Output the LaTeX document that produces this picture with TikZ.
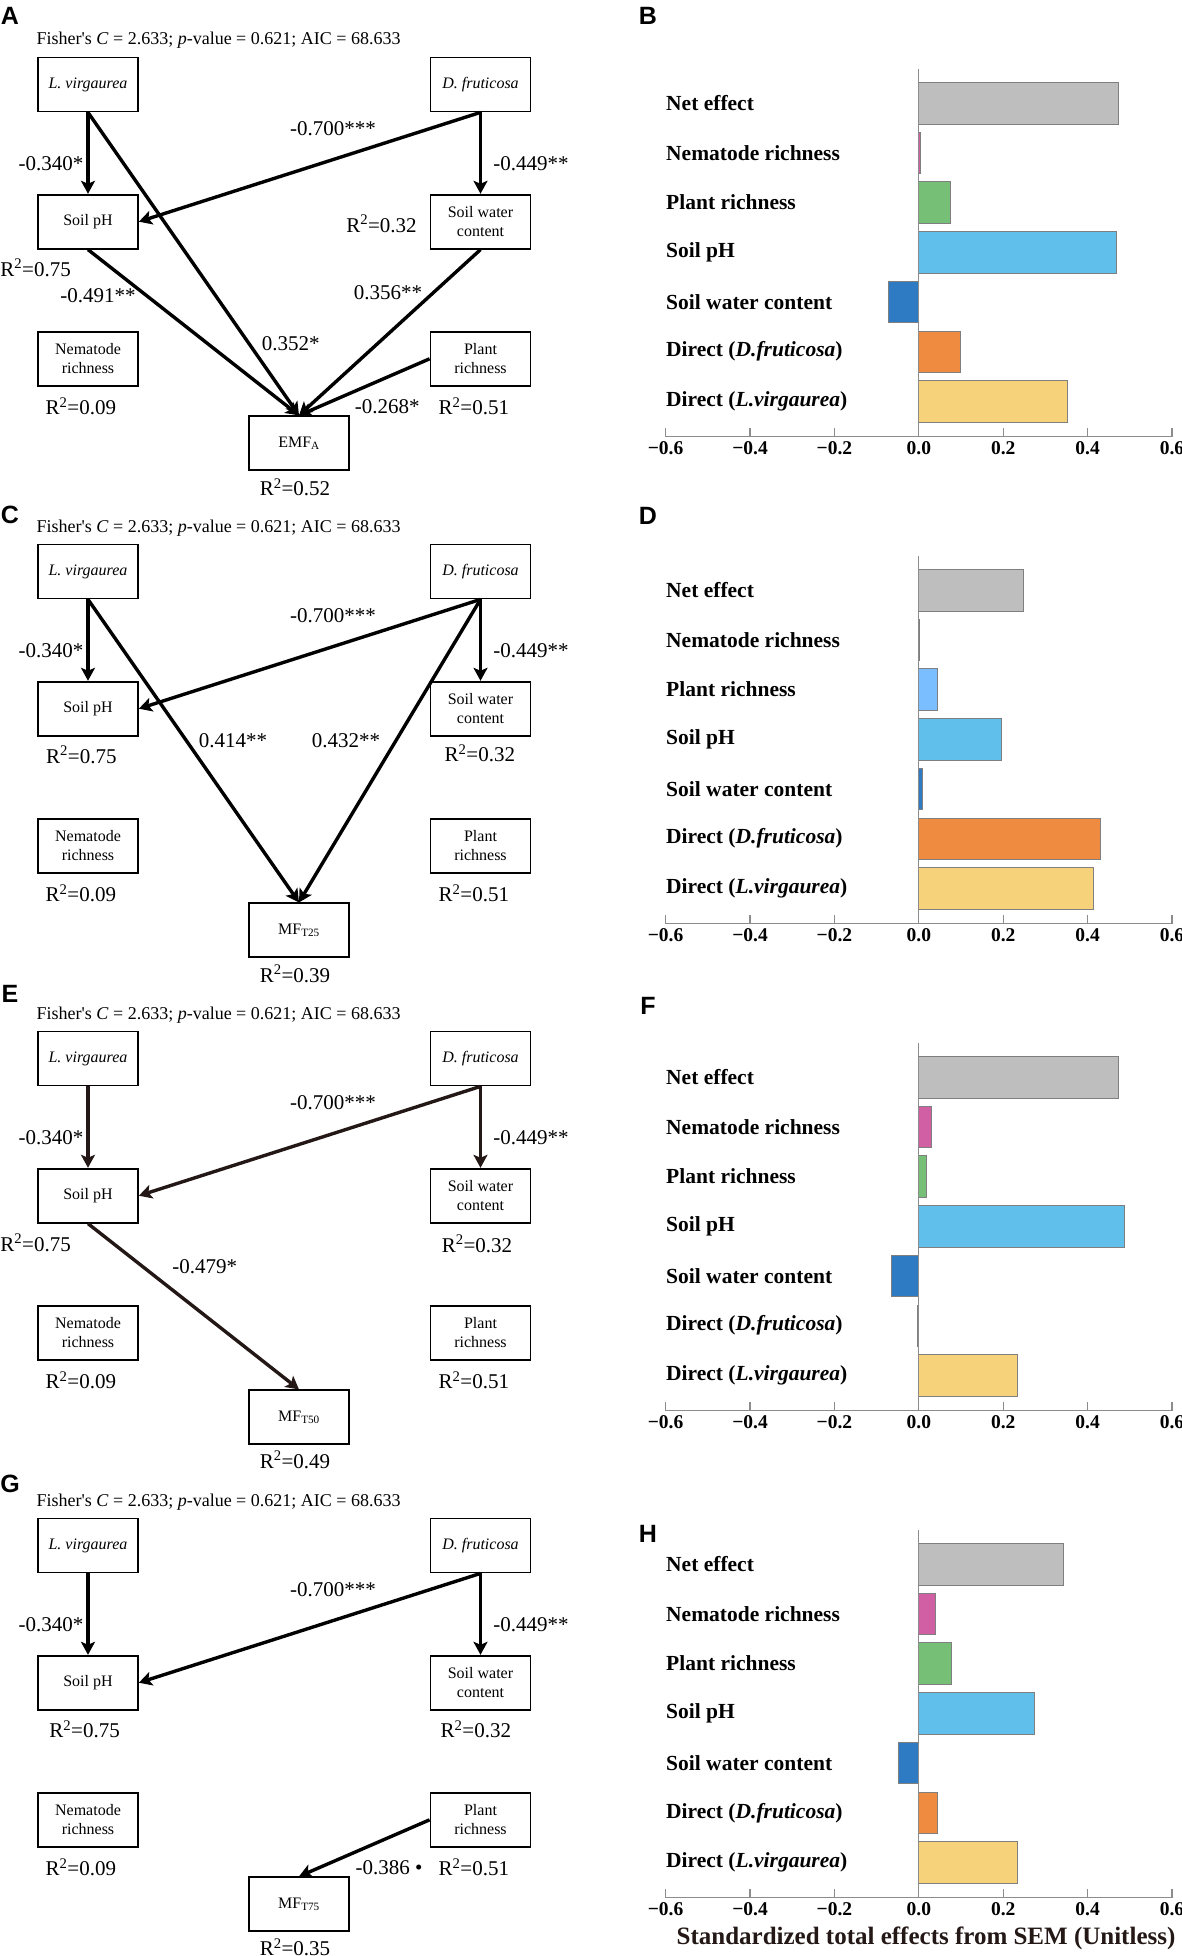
\documentclass[tikz,border=0pt]{standalone}
\usepackage{fontspec}
\setmainfont{Liberation Serif}
\newfontfamily\panelfont{Liberation Sans}
\usetikzlibrary{arrows.meta}

\definecolor{netgray}{HTML}{BEBEBE}
\definecolor{nempink}{HTML}{D05FA3}
\definecolor{plantgreen}{HTML}{76BF76}
\definecolor{plantsky}{HTML}{7ABEFF}
\definecolor{phblue}{HTML}{60BFEB}
\definecolor{swcblue}{HTML}{2E7BC3}
\definecolor{dforange}{HTML}{EE8B40}
\definecolor{lvyellow}{HTML}{F6D37A}
\definecolor{bargray}{HTML}{7F7F7F}
\definecolor{axisgray}{HTML}{8C8C8C}
\definecolor{darkbrown}{HTML}{231815}

\tikzset{
  semvar/.style={draw, line width=1.8pt, minimum width=100pt, minimum height=54pt,
    align=center, inner sep=0pt, font=\fontsize{16}{19}\selectfont},
  semarrow/.style={line width=3.4pt, -{Stealth[length=13pt,width=14pt,inset=3pt]}},
  coef/.style={inner sep=0pt, font=\fontsize{21}{23}\selectfont},
  fisher/.style={inner sep=0pt, anchor=base west, font=\fontsize{18}{20}\selectfont},
  panellabel/.style={inner sep=0pt, font=\panelfont\bfseries\fontsize{25}{25}\selectfont},
  barlabel/.style={inner sep=0pt, anchor=west, font=\bfseries\fontsize{21.5}{24}\selectfont},
  ticklabel/.style={inner sep=0pt, font=\bfseries\fontsize{19.5}{22}\selectfont},
  effbar/.style={draw=bargray, line width=0.8pt},
  axisline/.style={draw=axisgray, line width=1.1pt}
}

% SEM panel: #1 y offset, #2 letter, #3 letter y, #4 suffix, #5 response, #6 arrow colour
\newcommand{\sempanel}[6]{%
  \begin{scope}[shift={(0,#1)}]
    \node[panellabel] (lab#4) at (10,#3) {#2};
    \node[fisher] (fis#4) at (36.5,45) {Fisher\textquotesingle s \textit{C} = 2.633; \textit{p}-value = 0.621; AIC = 68.633};
    \node[semvar] (Lv#4) at (88,84.5) {\textit{L. virgaurea}};
    \node[semvar] (Df#4) at (480.5,84.5) {\textit{D. fruticosa}};
    \node[semvar] (pH#4) at (88,221.7) {Soil pH};
    \node[semvar] (SWC#4) at (480.5,221.7) {Soil water\\content};
    \node[semvar] (Nem#4) at (88,358.8) {Nematode\\richness};
    \node[semvar] (Pl#4) at (480.5,358.8) {Plant\\richness};
    \node[semvar] (MF#4) at (299,443.3) {#5};
    \draw[semarrow, #6] (Lv#4) -- (pH#4);
    \draw[semarrow, #6] (Df#4.south) -- (pH#4.east);
    \draw[semarrow, #6] (Df#4) -- (SWC#4);
    \node[coef] at (51,164) {-0.340*};
    \node[coef] at (333,128.3) {-0.700***};
    \node[coef] at (531,164) {-0.449**};
    \node[coef] at (80.8,406.3) {R\textsuperscript{2}=0.09};
    \node[coef] at (473.8,406.3) {R\textsuperscript{2}=0.51};
  \end{scope}}

% effect bars: #1 y offset, #2 letter, #3 letter y, #4 value/colour list
\newcommand{\effectpanel}[4]{%
  \begin{scope}[shift={(0,#1)}]
    \node[panellabel] at (648,#3) {#2};
    \foreach \lab [count=\i] in {Net effect, Nematode richness, Plant richness, Soil pH,
        Soil water content, {Direct (\textit{D.fruticosa})}, {Direct (\textit{L.virgaurea})}}
      \node[barlabel] at (666,{103.2+49.7*(\i-1)}) {\lab};
    \foreach \val/\col [count=\i] in {#4}
      \draw[effbar, fill=\col] (918.8,{82.4+49.7*(\i-1)}) rectangle ({918.8+422*(\val)},{124+49.7*(\i-1)});
    \draw[axisline] (918.8,69) -- (918.8,436.7);
    \draw[axisline] (665.2,436.7) -- (1171.7,436.7);
    \foreach \tv/\tl in {-0.6/−0.6, -0.4/−0.4, -0.2/−0.2, 0/0.0, 0.2/0.2, 0.4/0.4, 0.6/0.6} {
      \draw[axisline] ({918.8+422*(\tv)},436.7) -- ++(0,-8.3);
      \node[ticklabel] at ({918.8+422*(\tv)},448.3) {\tl};
    }
  \end{scope}}

\begin{document}
\begin{tikzpicture}[x=1pt, y=-1pt]
\useasboundingbox (0,0) rectangle (1181,1956);

% A
\sempanel{0}{A}{16}{a}{EMF\textsubscript{A}}{black}
\draw[semarrow] (Lva.south) -- (MFa.north);
\draw[semarrow] (pHa.south) -- (MFa.north);
\draw[semarrow] (SWCa.south) -- (MFa.north);
\draw[semarrow] (Pla.west) -- (MFa.north);
\node[coef] at (35.6,268) {R\textsuperscript{2}=0.75};
\node[coef] at (381.5,224) {R\textsuperscript{2}=0.32};
\node[coef] at (98,296) {-0.491**};
\node[coef] at (388,292.7) {0.356**};
\node[coef] at (290.8,343.3) {0.352*};
\node[coef] at (387.3,406.7) {-0.268*};
\node[coef] at (295,487.3) {R\textsuperscript{2}=0.52};

% C
\sempanel{487}{C}{28}{c}{MF\textsubscript{T25}}{black}
\draw[semarrow] (Lvc.south) -- (MFc.north);
\draw[semarrow] (Dfc.south) -- (MFc.north);
\node[coef] at (233,740.7) {0.414**};
\node[coef] at (346,740.7) {0.432**};
\node[coef] at (81.3,755) {R\textsuperscript{2}=0.75};
\node[coef] at (479.8,753.3) {R\textsuperscript{2}=0.32};
\node[coef] at (295,974) {R\textsuperscript{2}=0.39};

% E
\sempanel{974}{E}{20}{e}{MF\textsubscript{T50}}{darkbrown}
\draw[semarrow, darkbrown] (pHe.south) -- (MFe.north);
\node[coef] at (35.6,1242.7) {R\textsuperscript{2}=0.75};
\node[coef] at (477,1244) {R\textsuperscript{2}=0.32};
\node[coef] at (204.8,1266.7) {-0.479*};
\node[coef] at (295,1460) {R\textsuperscript{2}=0.49};

% G
\sempanel{1461}{G}{23}{g}{MF\textsubscript{T75}}{black}
\draw[semarrow] (Plg.west) -- (MFg.north);
\node[coef] at (84.6,1729.3) {R\textsuperscript{2}=0.75};
\node[coef] at (475.8,1729.3) {R\textsuperscript{2}=0.32};
\node[coef] at (389,1867.3) {-0.386 \textbullet};
\node[coef] at (295,1947.3) {R\textsuperscript{2}=0.35};

% B, D, F, H
\effectpanel{0}{B}{16}{0.472/netgray, 0.003/nempink, 0.074/plantgreen, 0.469/phblue, -0.073/swcblue, 0.099/dforange, 0.352/lvyellow}
\effectpanel{487}{D}{29}{0.248/netgray, 0.001/nempink, 0.045/plantsky, 0.196/phblue, 0.008/swcblue, 0.431/dforange, 0.414/lvyellow}
\effectpanel{974}{F}{32}{0.472/netgray, 0.029/nempink, 0.018/plantgreen, 0.488/phblue, -0.064/swcblue, -0.004/dforange, 0.233/lvyellow}
\effectpanel{1461}{H}{73}{0.343/netgray, 0.040/nempink, 0.078/plantgreen, 0.273/phblue, -0.048/swcblue, 0.044/dforange, 0.233/lvyellow}
\node[font=\bfseries\fontsize{25}{28}\selectfont, text=darkbrown, inner sep=0pt] (xtitle) at (926,1938.3) {Standardized total effects from SEM (Unitless)};

\end{tikzpicture}
\end{document}
